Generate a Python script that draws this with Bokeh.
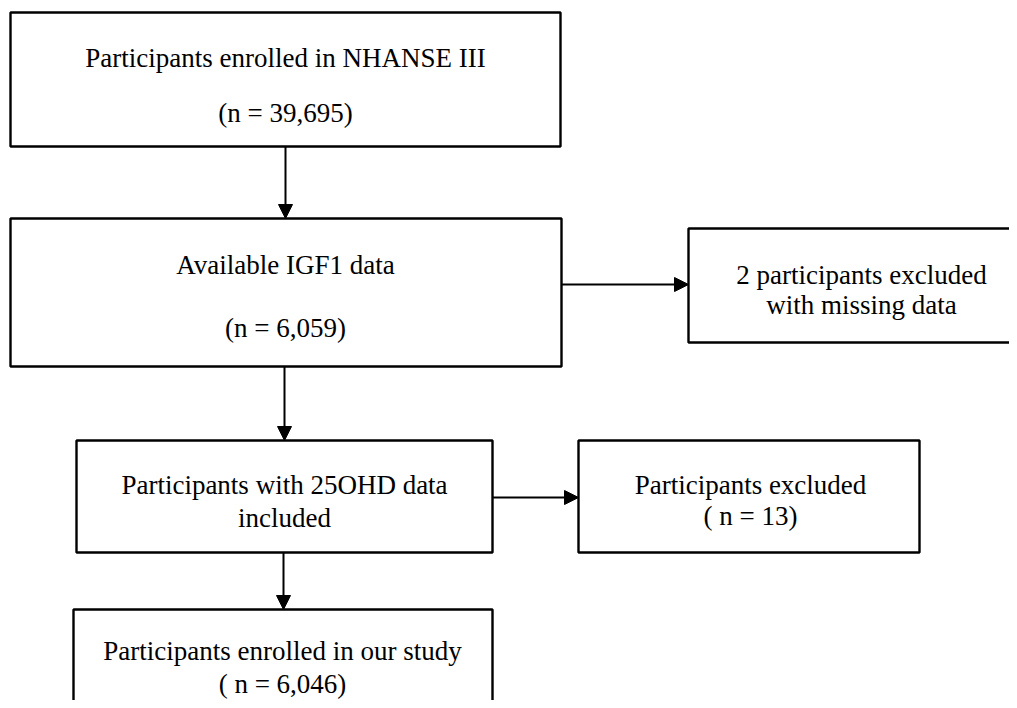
from bokeh.plotting import figure
from bokeh.models import Range1d, Arrow, NormalHead
from bokeh.core.properties import value
from bokeh.embed import file_html
from bokeh.resources import INLINE

# ---- content ----
stage_titles = [
    "Participants enrolled in NHANSE III",
    "Available IGF1 data",
    "2 participants excluded",
    "Participants with 25OHD data",
    "Participants excluded",
    "Participants enrolled in our study",
]
stage_second = [
    "(n = 39,695)",
    "(n = 6,059)",
    "with missing data",
    "included",
    "( n = 13)",
    "( n = 6,046)",
]

# ---- layout (pixels, y downward) ----
boxes = [  # left, top, right, bottom
    (10, 12, 560, 146),
    (10, 218, 561, 366),
    (688, 228, 1040, 342),
    (76, 440, 492, 552),
    (578, 440, 919, 552),
    (73, 609, 492, 740),
]
line1_y = [57, 264, 274, 484, 484, 650]
line2_y = [112, 327, 304, 517, 515, 683]
text_x = [285, 285, 861, 284, 750, 282]

arrows = [  # x0, y0, x1, y1
    (285, 146, 285, 218),
    (561, 284, 688, 284),
    (284, 366, 284, 440),
    (492, 497, 578, 497),
    (283, 552, 283, 609),
]

W, H = 1009, 700
p = figure(width=W, height=H, output_backend="svg", toolbar_location=None,
           x_range=Range1d(0, W), y_range=Range1d(H, 0),
           min_border=0, outline_line_color=None)
p.axis.visible = False
p.grid.visible = False
p.background_fill_color = "white"

p.quad(left=[b[0] for b in boxes], top=[b[1] for b in boxes],
       right=[b[2] for b in boxes], bottom=[b[3] for b in boxes],
       fill_color=None, line_color="black", line_width=2.4)

for (x0, y0, x1, y1) in arrows:
    p.add_layout(Arrow(x_start=x0, y_start=y0, x_end=x1, y_end=y1,
                       line_color="black", line_width=2,
                       end=NormalHead(size=14, fill_color="black", line_color="black", line_width=1)))

font = value("Liberation Serif")
p.text(x=text_x, y=line1_y, text=stage_titles, text_font=font, text_font_size="27px",
       text_align="center", text_baseline="alphabetic", text_color="black")
p.text(x=text_x, y=line2_y, text=stage_second, text_font=font, text_font_size="27px",
       text_align="center", text_baseline="alphabetic", text_color="black")

open("out.html", "w").write(file_html(p, INLINE))
